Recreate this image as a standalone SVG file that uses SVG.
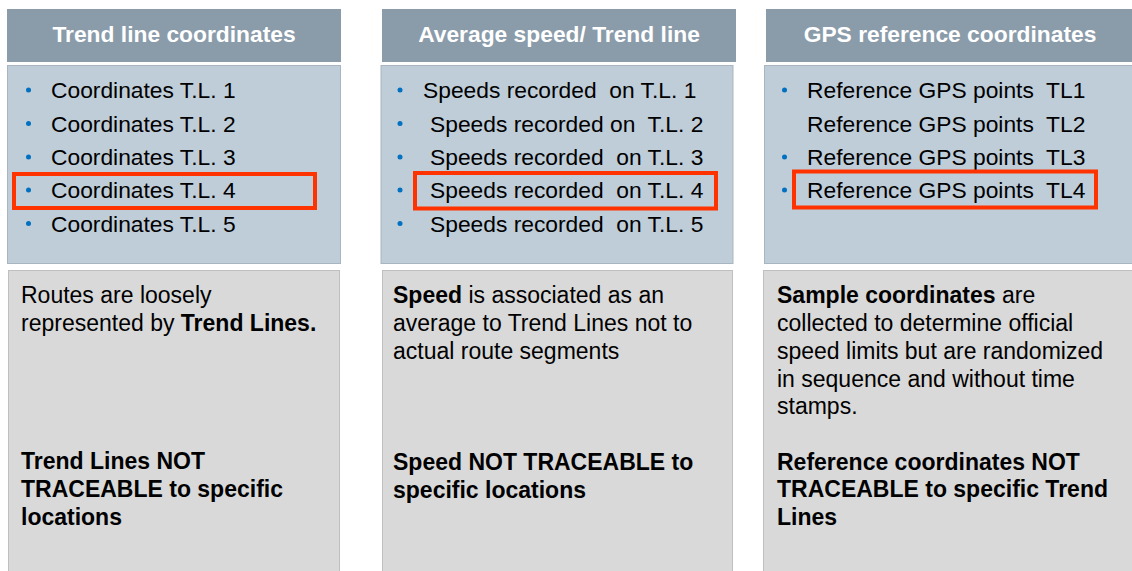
<svg xmlns="http://www.w3.org/2000/svg" width="1132" height="571" viewBox="0 0 1132 571">
<style>
.hdr{fill:#8A9BAA}
.body{fill:#BFCDD9;stroke:#A9B6C2;stroke-width:1}
.note{fill:#D9D9D9;stroke:#BFBFBF;stroke-width:1}
.ht{font-family:"Liberation Sans",Arial,sans-serif;font-weight:bold;font-size:22.8px;fill:#FFFFFF;text-anchor:middle}
.it{font-family:"Liberation Sans",Arial,sans-serif;font-size:22.8px;fill:#000000}
.nt{font-family:"Liberation Sans",Arial,sans-serif;font-size:23px;fill:#000000}
.b{font-weight:bold}
.dot{fill:#0070C0}
.hl{fill:none;stroke:#FF3300;stroke-width:4}
</style>
<rect width="1132" height="571" fill="#FFFFFF"/>

<g id="col1">
<rect class="hdr" x="7" y="9" width="334" height="53"/>
<text class="ht" x="174" y="42">Trend line coordinates</text>
<rect class="body" x="7.5" y="65.5" width="333" height="198"/>
<circle class="dot" cx="28.5" cy="90" r="2.5"/>
<circle class="dot" cx="28.5" cy="123.5" r="2.5"/>
<circle class="dot" cx="28.5" cy="157" r="2.5"/>
<circle class="dot" cx="28.5" cy="190" r="2.5"/>
<circle class="dot" cx="28.5" cy="223.5" r="2.5"/>
<text class="it" x="51" y="98">Coordinates T.L. 1</text>
<text class="it" x="51" y="131.5">Coordinates T.L. 2</text>
<text class="it" x="51" y="165">Coordinates T.L. 3</text>
<text class="it" x="51" y="198">Coordinates T.L. 4</text>
<text class="it" x="51" y="231.5">Coordinates T.L. 5</text>
<rect class="hl" x="14" y="174" width="301" height="34"/>
<rect class="note" x="8.5" y="270.5" width="331" height="302"/>
<text class="nt" x="21" y="303">Routes are loosely</text>
<text class="nt" x="21" y="331">represented by <tspan class="b">Trend Lines.</tspan></text>
<text class="nt b" x="21" y="469">Trend Lines NOT</text>
<text class="nt b" x="21" y="497">TRACEABLE to specific</text>
<text class="nt b" x="21" y="525">locations</text>
</g>

<g id="col2">
<rect class="hdr" x="382" y="9" width="354" height="53"/>
<text class="ht" x="559" y="42">Average speed/ Trend line</text>
<rect class="body" x="381" y="65.5" width="352" height="198"/>
<circle class="dot" cx="400" cy="90" r="2.5"/>
<circle class="dot" cx="400" cy="123.5" r="2.5"/>
<circle class="dot" cx="400" cy="157" r="2.5"/>
<circle class="dot" cx="400" cy="190" r="2.5"/>
<circle class="dot" cx="400" cy="223.5" r="2.5"/>
<text class="it" x="423" y="98" xml:space="preserve">Speeds recorded  on T.L. 1</text>
<text class="it" x="430" y="131.5" xml:space="preserve">Speeds recorded on  T.L. 2</text>
<text class="it" x="430" y="165" xml:space="preserve">Speeds recorded  on T.L. 3</text>
<text class="it" x="430" y="198" xml:space="preserve">Speeds recorded  on T.L. 4</text>
<text class="it" x="430" y="231.5" xml:space="preserve">Speeds recorded  on T.L. 5</text>
<rect class="hl" x="415" y="173" width="301" height="35.5"/>
<rect class="note" x="382.5" y="270.5" width="350" height="302"/>
<text class="nt" x="393" y="303"><tspan class="b">Speed</tspan> is associated as an</text>
<text class="nt" x="393" y="331">average to Trend Lines not to</text>
<text class="nt" x="393" y="359">actual route segments</text>
<text class="nt b" x="393" y="470">Speed NOT TRACEABLE to</text>
<text class="nt b" x="393" y="498">specific locations</text>
</g>

<g id="col3">
<rect class="hdr" x="766" y="9" width="366" height="53"/>
<text class="ht" x="950" y="42">GPS reference coordinates</text>
<rect class="body" x="764.5" y="65.5" width="368" height="198"/>
<circle class="dot" cx="784.5" cy="90" r="2.5"/>
<circle class="dot" cx="784.5" cy="157" r="2.5"/>
<circle class="dot" cx="784.5" cy="190" r="2.5"/>
<text class="it" x="807" y="98" xml:space="preserve">Reference GPS points  TL1</text>
<text class="it" x="807" y="131.5" xml:space="preserve">Reference GPS points  TL2</text>
<text class="it" x="807" y="165" xml:space="preserve">Reference GPS points  TL3</text>
<text class="it" x="807" y="198" xml:space="preserve">Reference GPS points  TL4</text>
<rect class="hl" x="794" y="171.5" width="302" height="36"/>
<rect class="note" x="763.5" y="270.5" width="370" height="302"/>
<text class="nt" x="777" y="303"><tspan class="b">Sample coordinates</tspan> are</text>
<text class="nt" x="777" y="331">collected to determine official</text>
<text class="nt" x="777" y="359">speed limits but are randomized</text>
<text class="nt" x="777" y="387">in sequence and without time</text>
<text class="nt" x="777" y="414">stamps.</text>
<text class="nt b" x="777" y="470">Reference coordinates NOT</text>
<text class="nt b" x="777" y="497">TRACEABLE to specific Trend</text>
<text class="nt b" x="777" y="525">Lines</text>
</g>

<g id="connectors"></g>
</svg>
